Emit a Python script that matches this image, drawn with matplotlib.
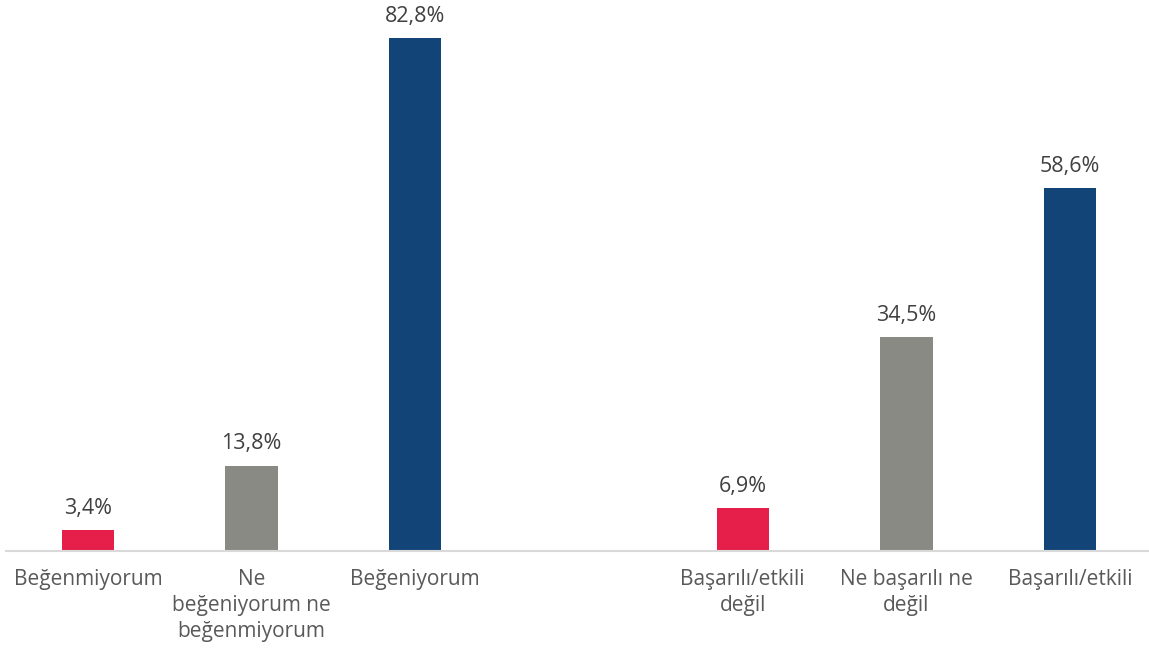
import matplotlib.pyplot as plt

# Veriler
etiketler = ["Beğenmiyorum", "Ne\nbeğeniyorum ne\nbeğenmiyorum", "Beğeniyorum",
             "Başarılı/etkili\ndeğil", "Ne başarılı ne\ndeğil", "Başarılı/etkili"]
degerler = [3.4, 13.8, 82.8, 6.9, 34.5, 58.6]
konumlar = [0, 1, 2, 4, 5, 6]
renkler = ["#E61E4A", "#8A8A84", "#124477", "#E61E4A", "#8A8A84", "#124477"]

plt.rcParams['font.family'] = ['Open Sans', 'DejaVu Sans']

fig = plt.figure(figsize=(11.49, 6.53), dpi=100)
ax = fig.add_axes([6 / 1149, 102 / 653, 1146 / 1149, 551 / 653])

ax.bar(konumlar, degerler, width=0.32, color=renkler, zorder=2)

for x, v in zip(konumlar, degerler):
    ax.annotate(f"{v:.1f}%".replace(".", ","), (x, v), xytext=(0, 8),
                textcoords="offset points", ha="center", va="bottom",
                fontsize=15.5, color="#404040")

ax.set_xlim(-0.5, 6.5)
ax.set_ylim(0, 89)
ax.set_xticks(konumlar)
ax.set_xticklabels(etiketler, fontsize=15, color="#595959", linespacing=1.3)
ax.tick_params(axis="x", length=0, pad=13)
ax.set_yticks([])
for s in ["top", "right", "left"]:
    ax.spines[s].set_visible(False)
ax.spines["bottom"].set_color("#D9D9D9")
ax.spines["bottom"].set_linewidth(1.5)

fig.savefig("out.png", dpi=100)
